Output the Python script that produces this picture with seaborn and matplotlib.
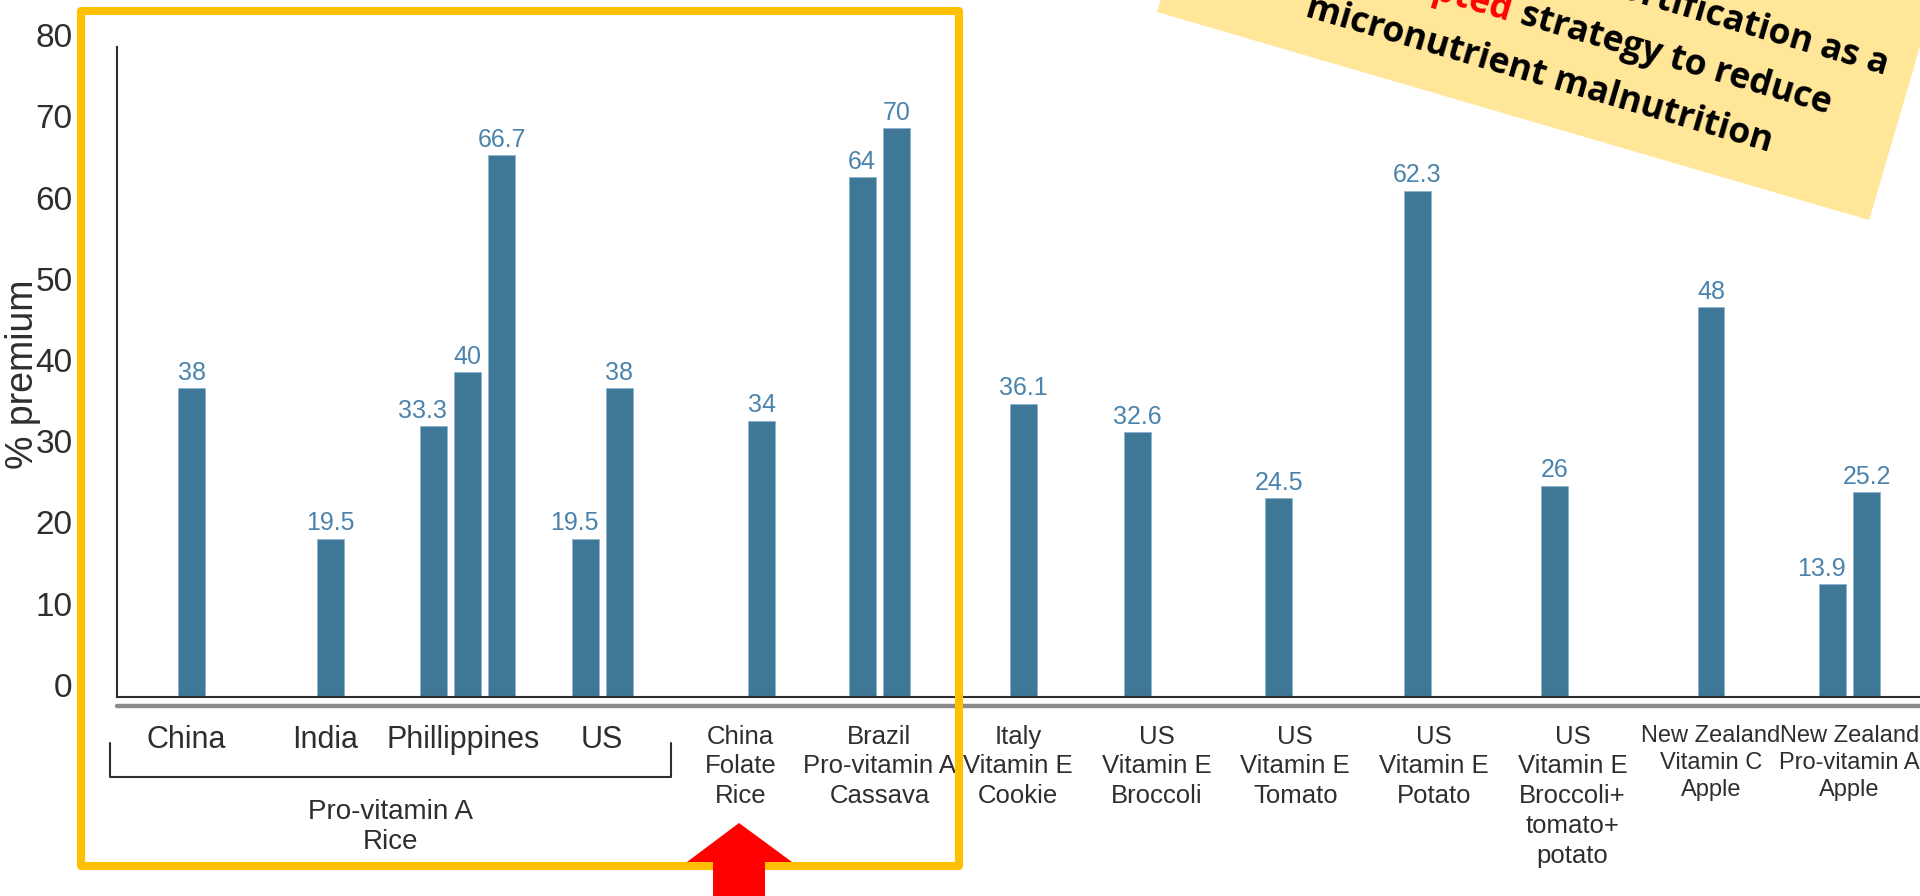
import numpy as np
import pandas as pd
import seaborn as sns
import matplotlib.pyplot as plt
from matplotlib.patches import Polygon, Rectangle, Ellipse

W, H = 1920, 896

# one slot per study, one list of bar values per slot
studies = ["China", "India", "Phillippines", "US",
           "China\nFolate\nRice", "Brazil\nPro-vitamin A\nCassava",
           "Italy\nVitamin E\nCookie", "US\nVitamin E\nBroccoli",
           "US\nVitamin E\nTomato", "US\nVitamin E\nPotato",
           "US\nVitamin E\nBroccoli+\ntomato+\npotato",
           "New Zealand\nVitamin C\nApple", "New Zealand\nPro-vitamin A\nApple"]
premiums = [[38], [19.5], [33.3, 40, 66.7], [19.5, 38], [34], [64, 70],
            [36.1], [32.6], [24.5], [62.3], [26], [48], [13.9, 25.2]]
rice_studies = 4  # first four slots share the bracket below
rice_label = "Pro-vitamin A\nRice"
y_ticks = [0, 10, 20, 30, 40, 50, 60, 70, 80]
y_label = "% premium"

note_line1 = "Consumers accept biofortification as a"
note_red = "widely accepted"
note_line2 = "strategy to reduce"
note_line3 = "micronutrient malnutrition"

BAR = "#3f7896"
LABEL_BLUE = "#4b83ad"
INK = "#2e2e2e"
x_label_sizes = [22] * 4 + [18.5] * 7 + [17] * 2
# the source is pasted from several panels, so bar groups sit a bit off the slot centre
slot_nudge = [0.04, 0.04, 0.03, 0, 0.15, 0, 0.04, -0.14, -0.12, -0.12, -0.13, 0, 0]

# bars of one study sit side by side around the slot centre
BAR_STEP = 0.245
rows = []
for i, vals in enumerate(premiums):
    n = len(vals)
    for k, v in enumerate(vals):
        rows.append({"pos": i + slot_nudge[i] + (k - (n - 1) / 2) * BAR_STEP,
                     "premium": v, "rank": k, "n": n})
df = pd.DataFrame(rows)

sns.set_style("white")
plt.rcParams["font.family"] = ["Liberation Sans", "DejaVu Sans"]

fig = plt.figure(figsize=(W / 100, H / 100), dpi=100)
ax = fig.add_axes([117 / W, 1 - 697 / H, 1802 / W, 650 / H])

sns.barplot(data=df, x="pos", y="premium", native_scale=True, width=0.79, color=BAR,
            saturation=1, errorbar=None, edgecolor="#8db4cf", linewidth=0.6, ax=ax)

ax.set_xlim(-0.5, len(studies) - 0.5)
ax.set_ylim(0, 80)

# value labels above the bars
bars = sorted(ax.patches, key=lambda p: p.get_x())
for bar, (_, r) in zip(bars, df.sort_values("pos").iterrows()):
    if r["n"] > 1 and r["rank"] == 0:
        x, ha = bar.get_x() + bar.get_width(), "right"
    else:
        x, ha = bar.get_x() + bar.get_width() / 2, "center"
    ax.annotate(f"{r['premium']:g}", (x, bar.get_height()), xytext=(0, 6),
                textcoords="offset points", ha=ha, va="baseline", fontsize=18, color=LABEL_BLUE)

# y axis
ax.set_yticks(y_ticks)
ax.tick_params(axis="y", direction="in", length=13.7, width=1.5, color=INK,
               labelsize=24, labelcolor=INK, pad=32)
for t in ax.get_yticklabels():
    t.set_verticalalignment("baseline")
ax.set_ylabel(y_label, fontsize=27, color=INK)
ax.yaxis.set_label_coords(-0.042, 0.497)

# x axis: labels at slot centres, separator ticks at slot edges
ax.set_xticks(range(len(studies)))
ax.set_xticklabels(studies)
ax.set_xticks(np.arange(-0.5, len(studies)), minor=True)
ax.tick_params(axis="x", which="major", length=0, pad=20, labelcolor=INK)
ax.tick_params(axis="x", which="minor", direction="in", length=12.5, width=1.5, color=INK)
for t, s in zip(ax.get_xticklabels(), x_label_sizes):
    t.set_fontsize(s)
    t.set_linespacing(1.3)
ax.set_xlabel("")

for side in ["top", "right"]:
    ax.spines[side].set_visible(False)
for side in ["left", "bottom"]:
    ax.spines[side].set_color(INK)
    ax.spines[side].set_linewidth(1.5)
ax.axhline(-1.1, color="#8a8a8a", lw=3.2, clip_on=False)

# bracket for the rice studies
tr = ax.get_xaxis_transform()
y_top, y_bot = (697 - 743) / 650, (697 - 777) / 650
xl, xr = -0.55, rice_studies - 0.5
ax.plot([xl, xl, xr, xr], [y_top, y_bot, y_bot, y_top], transform=tr,
        color=INK, lw=1.5, clip_on=False)
ax.text((xl + xr) / 2, (697 - 799) / 650, rice_label, transform=tr, ha="center",
        va="top", fontsize=20, color=INK, linespacing=1.2)


def px(x, y):
    return (x / W, 1 - y / H)


# yellow frame and red arrow
fig.add_artist(Rectangle(px(81, 866), (959 - 81) / W, (866 - 11) / H, transform=fig.transFigure,
                         fill=False, ec="#FFC000", lw=5.8, joinstyle="round", zorder=5))
arrow = [(739, 823), (792, 862), (765, 862), (765, 900), (713, 900), (713, 862), (687, 862)]
fig.add_artist(Polygon([px(*p) for p in arrow], closed=True, transform=fig.transFigure,
                       fc="#FF0000", ec="none", zorder=5))

# rotated note in the top right corner
bl = np.array([1157.0, 12.0])
d = np.array([712.0, 208.0])
d /= np.hypot(*d)
nrm = np.array([d[1], -d[0]])
angle = -np.degrees(np.arctan2(208, 712))
box_w, box_h = 742, 320
corners = [bl, bl + box_w * d, bl + box_w * d + box_h * nrm, bl + box_h * nrm]
fig.add_artist(Ellipse(px(1818, -22), 80 / W, 56 / H, transform=fig.transFigure,
                       fc="#9fd4f4", ec="none", zorder=5))
fig.add_artist(Polygon([px(*c) for c in corners], closed=True, transform=fig.transFigure,
                       fc="#FFE699", ec="none", zorder=6))


def note_at(u, v):
    p = bl + u * d + v * nrm
    return px(*p)


note_kw = dict(transform=fig.transFigure, rotation=angle, rotation_mode="anchor",
               va="baseline", fontsize=25.5, fontweight="bold", family=["Open Sans", "DejaVu Sans"],
               zorder=7)
fig.text(*note_at(716, 144), note_line1, ha="right", color="black", **note_kw)
fig.text(*note_at(340, 90), note_red, ha="right", color="#FF0000", **note_kw)
fig.text(*note_at(350, 90), note_line2, ha="left", color="black", **note_kw)
fig.text(*note_at(142, 37), note_line3, ha="left", color="black", **note_kw)

fig.savefig("out.png", dpi=100)
